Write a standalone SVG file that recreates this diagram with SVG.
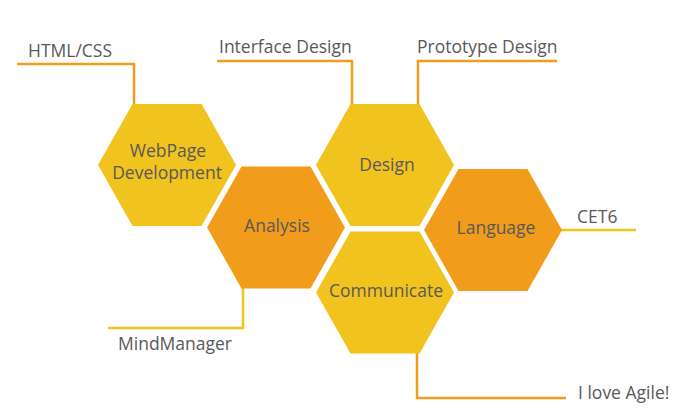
<svg xmlns="http://www.w3.org/2000/svg" width="695" height="416" viewBox="0 0 695 416">
<style>
.yel{fill:#F0C31F}
.ora{fill:#F29C1B}
.lbl{font-family:"Open Sans","DejaVu Sans",sans-serif;font-size:17.5px;fill:#595959}
.mid{text-anchor:middle}
.lo{fill:none;stroke:#F29C1B;stroke-width:2.5}
.ly{fill:none;stroke:#F0C31F;stroke-width:2.5}
</style>
<defs>
<polygon id="hex" points="-34.5,-61 34.5,-61 69,0 34.5,61 -34.5,61 -69,0"/>
</defs>
<rect width="695" height="416" fill="#ffffff"/>
<g id="connectors">
<polyline class="lo" points="17,64 134,64 134,105"/>
<polyline class="lo" points="217,61 352,61 352,105"/>
<polyline class="lo" points="557,61 418,61 418,105"/>
<polyline class="ly" points="560,230 636,230"/>
<polyline class="ly" points="243,287 243,328 108,328"/>
<polyline class="lo" points="417,352 417,398 566,398"/>
</g>
<g id="webpage">
<use href="#hex" class="yel" transform="translate(167,165)"/>
<text class="lbl mid" x="168" y="157">WebPage</text>
<text class="lbl mid" x="167" y="179">Development</text>
</g>
<g id="design">
<use href="#hex" class="yel" transform="translate(385,165)"/>
<text class="lbl mid" x="387" y="171">Design</text>
</g>
<g id="analysis">
<use href="#hex" class="ora" transform="translate(276,227.5)"/>
<text class="lbl mid" x="277" y="232">Analysis</text>
</g>
<g id="communicate">
<use href="#hex" class="yel" transform="translate(385,292.5)"/>
<text class="lbl mid" x="386" y="297">Communicate</text>
</g>
<g id="language">
<use href="#hex" class="ora" transform="translate(493,230)"/>
<text class="lbl mid" x="496" y="234">Language</text>
</g>
<g id="html-css"><text class="lbl" x="28" y="57">HTML/CSS</text></g>
<g id="interface-design"><text class="lbl" x="219" y="53">Interface Design</text></g>
<g id="prototype-design"><text class="lbl" x="417" y="53">Prototype Design</text></g>
<g id="cet6"><text class="lbl" x="577" y="223">CET6</text></g>
<g id="mindmanager"><text class="lbl" x="118" y="350">MindManager</text></g>
<g id="i-love-agile"><text class="lbl" x="578" y="399">I love Agile!</text></g>
</svg>
